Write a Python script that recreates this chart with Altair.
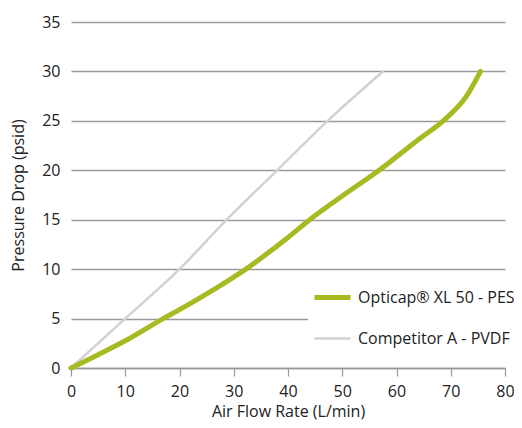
import altair as alt
import pandas as pd

# Opticap XL 50 - PES
opt_x = [0, 5, 10, 17, 20, 25, 30, 32.5, 35, 40, 44, 50, 56.8, 64, 68.6, 72.9, 75.5]
opt_y = [0, 1.35, 2.75, 5, 5.9, 7.5, 9.2, 10.1, 11.1, 13.2, 15, 17.4, 20, 23.1, 25, 27.5, 30]

# Competitor A - PVDF
comp_x = [0, 10, 20, 28.7, 38, 47.3, 57.5]
comp_y = [0, 5, 10, 15, 20, 25, 30]

series_names = ["Opticap® XL 50 - PES", "Competitor A - PVDF"]
series_colors = ["#a8ba22", "#d2d2d2"]
series_widths = [5, 2.5]

x_ticks = [0, 10, 20, 30, 40, 50, 60, 70, 80]
y_ticks = [0, 5, 10, 15, 20, 25, 30, 35]

rows = []
for x, y in zip(comp_x, comp_y):
    rows.append({"flow": x, "dp": y, "series": series_names[1]})
for x, y in zip(opt_x, opt_y):
    rows.append({"flow": x, "dp": y, "series": series_names[0]})
df = pd.DataFrame(rows)

FONT = "Open Sans"
TXT = "#222222"

chart = (
    alt.Chart(df)
    .mark_line(interpolate="monotone", strokeCap="round", strokeJoin="round")
    .encode(
        x=alt.X(
            "flow:Q",
            scale=alt.Scale(domain=[0, 80], nice=False),
            axis=alt.Axis(
                values=x_ticks,
                title="Air Flow Rate (L/min)",
                grid=False,
                domain=True,
                domainColor="#999999",
                domainWidth=1.5,
                ticks=True,
                tickColor="#999999",
                tickSize=8,
                tickWidth=1.2,
                labelFlush=False,
                labelPadding=7,
                titlePadding=4,
            ),
        ),
        y=alt.Y(
            "dp:Q",
            scale=alt.Scale(domain=[0, 35], nice=False),
            axis=alt.Axis(
                values=y_ticks,
                title="Pressure Drop (psid)",
                grid=True,
                gridColor="#9a9a9a",
                gridWidth=1.5,
                domain=False,
                ticks=False,
                labelFlush=False,
                labelPadding=11,
                titlePadding=15,
            ),
        ),
        color=alt.Color(
            "series:N",
            scale=alt.Scale(domain=series_names, range=series_colors),
            legend=alt.Legend(title=None),
        ),
        strokeWidth=alt.StrokeWidth(
            "series:N",
            scale=alt.Scale(domain=series_names, range=series_widths),
            legend=alt.Legend(title=None),
        ),
        order=alt.Order("flow:Q"),
    )
    .properties(
        width=434,
        height=346,
        autosize=alt.AutoSizeParams(type="none"),
        padding={"left": 63, "top": 14, "right": 9, "bottom": 52},
    )
    .configure_view(stroke=None)
    .configure_axis(
        labelFont=FONT,
        titleFont=FONT,
        labelFontSize=16,
        titleFontSize=16,
        labelColor=TXT,
        titleColor=TXT,
        titleFontWeight="normal",
    )
    .configure_legend(
        orient="none",
        legendX=237,
        legendY=251,
        fillColor="white",
        padding=4,
        labelFont=FONT,
        labelFontSize=16,
        labelColor=TXT,
        symbolType="stroke",
        symbolSize=1296,
        rowPadding=11,
        labelOffset=5,
    )
)

chart.save("out.html", embed_options={"renderer": "svg", "actions": False})
